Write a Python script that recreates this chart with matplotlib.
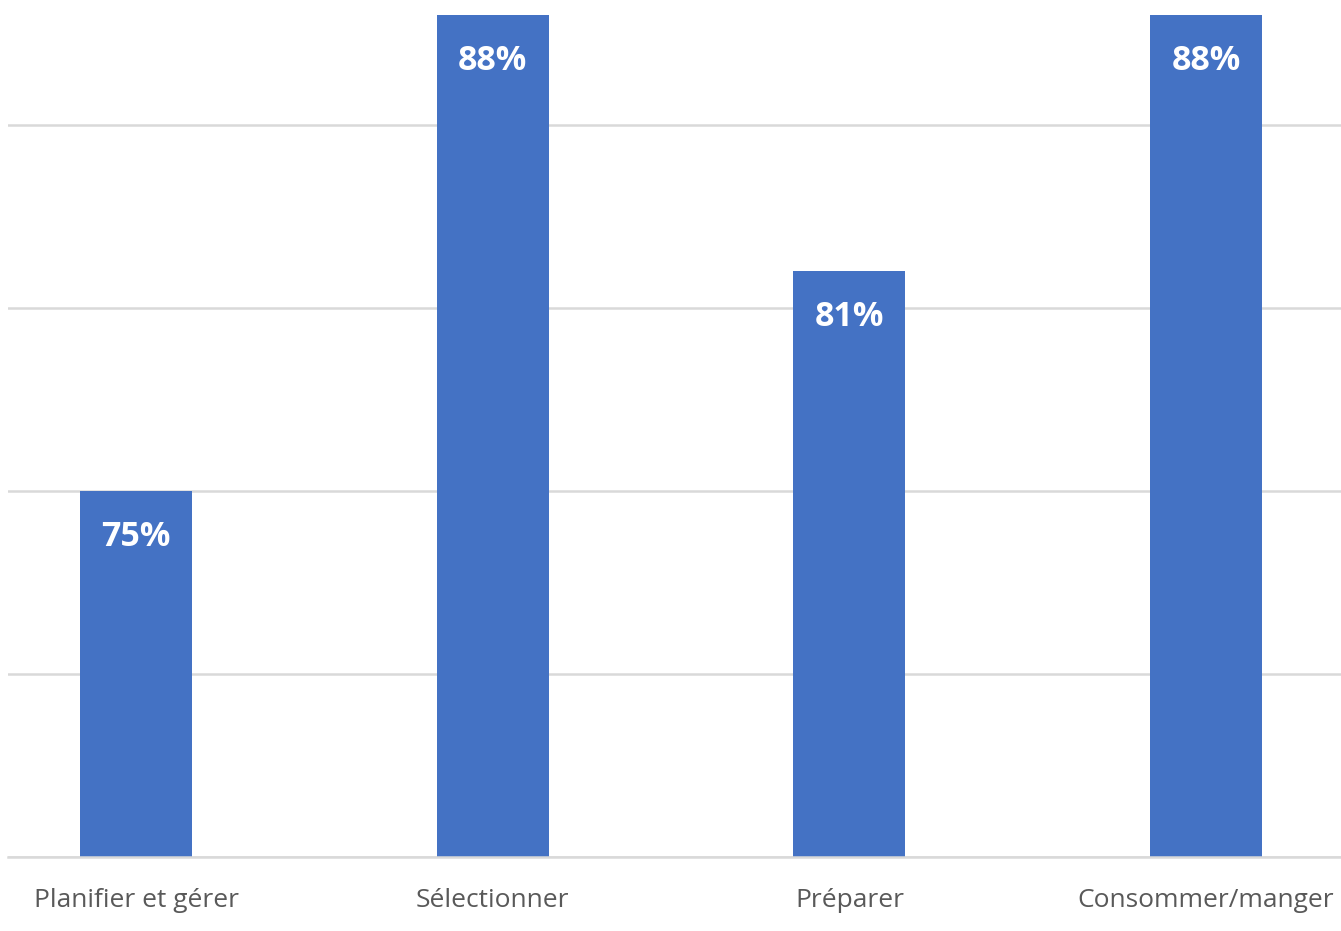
import matplotlib
matplotlib.use("Agg")
import matplotlib.pyplot as plt

categories = ["Planifier et gérer", "Sélectionner", "Préparer", "Consommer/manger"]
values = [75, 88, 81, 88]

BAR_COLOR = "#4472C4"
GRID_COLOR = "#D9D9D9"
TEXT_COLOR = "#595959"

fig = plt.figure(figsize=(13.41, 9.31), dpi=100)
ax = fig.add_axes([8 / 1341, 1 - 857 / 931, 1 - 8 / 1341, 857 / 931])

x = list(range(len(categories)))
ax.bar(x, values, width=0.314, color=BAR_COLOR, zorder=3, bottom=0)

ax.set_ylim(65, 88.415)
ax.set_xlim(-0.359, 3.378)
ax.set_yticks([65, 70, 75, 80, 85])
ax.yaxis.grid(True, color=GRID_COLOR, linewidth=1.8, zorder=0)
ax.set_yticklabels([])
ax.tick_params(axis="y", length=0)
ax.tick_params(axis="x", length=0, pad=22)
ax.set_xticks(x)
ax.set_xticklabels(categories, fontsize=19, color=TEXT_COLOR, family="Open Sans")

for side in ["top", "right", "left"]:
    ax.spines[side].set_visible(False)
ax.spines["bottom"].set_color(GRID_COLOR)
ax.spines["bottom"].set_linewidth(1.8)
ax.spines["bottom"].set_zorder(4)

for xi, v in zip(x, values):
    ax.annotate(f"{v}%", xy=(xi, v), xytext=(0, -33), textcoords="offset points",
                ha="center", va="center", color="white", fontsize=24.5,
                fontweight="bold", family="Open Sans", zorder=5)

fig.savefig("out.png", dpi=100)
